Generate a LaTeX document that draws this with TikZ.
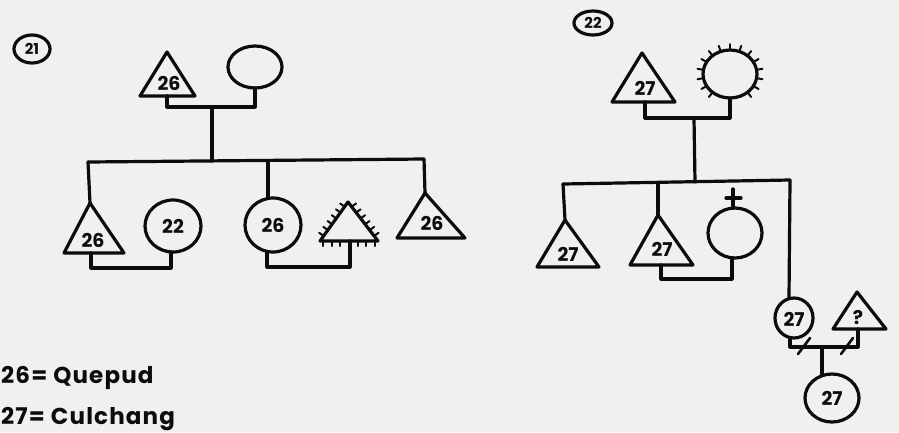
\documentclass[tikz,border=0pt]{standalone}
\usepackage{fontspec}
\setmainfont{Poppins}
\newfontfamily\legendfont[LetterSpace=5]{Poppins}
\usetikzlibrary{calc}
\definecolor{paper}{RGB}{240,240,239}
\definecolor{ink}{RGB}{12,12,12}
\tikzset{
  sym/.style={draw=ink, line width=3.2pt, line join=round, line cap=round},
  conn/.style={draw=ink, line width=3.2pt, line join=round, line cap=round},
  hair/.style={draw=ink, line width=2pt, line cap=round},
  num/.style={font=\fontsize{19}{19}\selectfont\bfseries, text=ink, inner sep=0pt},
  tag/.style={font=\fontsize{15}{15}\selectfont\bfseries, text=ink, inner sep=0pt},
  legend/.style={font=\legendfont\fontsize{23}{23}\selectfont\bfseries, text=ink, inner sep=0pt, anchor=base west}
}
\begin{document}
\begin{tikzpicture}[x=1pt,y=-1pt]
\fill[paper] (0,0) rectangle (899,432);
\useasboundingbox (0,0) rectangle (899,432);

% ===== family 21 =====
\coordinate (g21) at (32,49);
\draw[sym] (g21) ellipse (18 and 14);
\node[tag] (l21) at (32,49) {21};

% parents
\coordinate (t1a) at (167,52); \coordinate (t1l) at (140,96); \coordinate (t1r) at (195,96);
\draw[sym] (t1a) -- (t1r) -- (t1l) -- cycle;
\node[num] (n1) at (169,83) {26};
\coordinate (c1) at (255,67);
\draw[sym] (c1) ellipse (27 and 21);
\coordinate (t1b) at (167,96); \coordinate (c1b) at (255,88);
\coordinate (m1) at (212,107);
\draw[conn] (t1b) |- (m1) -| (c1b);
\coordinate (s1) at (212,161);
\draw[conn] (m1) -- (s1);

% sibling line
\coordinate (sL) at (88,162); \coordinate (sM) at (268,161); \coordinate (sR) at (424,159);
\draw[conn] (sL) -- (sR);

% child 1: triangle 26 + circle 22
\coordinate (t2a) at (90,203); \coordinate (t2l) at (64,253); \coordinate (t2r) at (124,253);
\draw[sym] (t2a) -- (t2r) -- (t2l) -- cycle;
\node[num] (n2) at (93,240) {26};
\draw[conn] (sL) -- (t2a);
\coordinate (c2) at (173,226);
\draw[sym] (c2) ellipse (28 and 26);
\node[num] (n3) at (c2) {22};
\coordinate (t2b) at (91,253); \coordinate (c2b) at (171,252);
\coordinate (m2) at (131,268);
\draw[conn] (t2b) |- (m2) -| (c2b);

% child 2: circle 26 + hairy triangle
\coordinate (c3) at (273,225);
\draw[sym] (c3) ellipse (28 and 27);
\node[num] (n4) at (c3) {26};
\coordinate (c3t) at (268,198);
\draw[conn] (sM) -- (c3t);
\coordinate (h-a) at (348,202); \coordinate (h-l) at (320,241); \coordinate (h-r) at (378,241);
\draw[sym] (h-a) -- (h-r) -- (h-l) -- cycle;
\foreach \f in {0.12,0.27,0.42,0.57,0.72,0.87}{
  \draw[hair] ($(h-a)!\f!(h-l)$) -- ++(-4.5,-3.2);
  \draw[hair] ($(h-a)!\f!(h-r)$) -- ++(4.5,-3.2);
}
\foreach \f in {0.05,0.2,0.35,0.5,0.65,0.8,0.95}{
  \draw[hair] ($(h-l)!\f!(h-r)$) -- ++(0,5);
}
\coordinate (c3b) at (267,252); \coordinate (hb) at (350,241);
\coordinate (m3) at (308,267);
\draw[conn] (c3b) |- (m3) -| (hb);

% child 3: triangle 26
\coordinate (t4a) at (425,193); \coordinate (t4l) at (397,238); \coordinate (t4r) at (465,238);
\draw[sym] (t4a) -- (t4r) -- (t4l) -- cycle;
\node[num] (n5) at (432,223) {26};
\draw[conn] (sR) -- (t4a);

% ===== family 22 =====
\coordinate (g22) at (593,23);
\draw[sym] (g22) ellipse (19 and 12);
\node[tag] (l22) at (593,23) {22};

\coordinate (t5a) at (642,53); \coordinate (t5l) at (612,102); \coordinate (t5r) at (675,102);
\draw[sym] (t5a) -- (t5r) -- (t5l) -- cycle;
\node[num] (n6) at (645,88) {27};
\coordinate (c5) at (730,74);
\draw[sym] (c5) ellipse (27 and 24);
\foreach \t in {-170,-150,...,50,130,150,170}{
  \draw[hair] ($(c5)+(\t:27 and 24)$) -- ($(c5)+(\t:33 and 30)$);
}
\coordinate (t5b) at (645,102); \coordinate (c5b) at (730,98);
\coordinate (m5) at (694,118);
\draw[conn] (t5b) |- (m5) -| (c5b);
\coordinate (s5) at (695,182);
\draw[conn] (m5) -- (s5);

\coordinate (rL) at (563,184); \coordinate (rM) at (658,183); \coordinate (rR) at (790,180);
\draw[conn] (rL) -- (rR);

\coordinate (t6a) at (565,220); \coordinate (t6l) at (537,267); \coordinate (t6r) at (599,267);
\draw[sym] (t6a) -- (t6r) -- (t6l) -- cycle;
\node[num] (n7) at (568,254) {27};
\draw[conn] (rL) -- (t6a);

\coordinate (t7a) at (658,215); \coordinate (t7l) at (630,265); \coordinate (t7r) at (693,265);
\draw[sym] (t7a) -- (t7r) -- (t7l) -- cycle;
\node[num] (n8) at (662,249) {27};
\draw[conn] (rM) -- (t7a);

\coordinate (c7) at (735,233);
\draw[sym] (c7) ellipse (27 and 25);
\coordinate (x1) at (733,208); \coordinate (x2) at (733,189);
\coordinate (x3) at (726,198); \coordinate (x4) at (741,198);
\draw[conn] (x1) -- (x2);
\draw[conn] (x3) -- (x4);
\coordinate (t7b) at (661,265); \coordinate (c7b) at (732,258);
\coordinate (m7) at (696,279);
\draw[conn] (t7b) |- (m7) -| (c7b);

% right branch: divorced couple
\coordinate (c8) at (794,318);
\draw[sym] (c8) ellipse (19 and 20);
\node[num] (n9) at (794,319) {27};
\coordinate (c8t) at (789,298);
\draw[conn] (rR) -- (c8t);
\coordinate (t8a) at (857,292); \coordinate (t8l) at (833,329); \coordinate (t8r) at (886,329);
\draw[sym] (t8a) -- (t8r) -- (t8l) -- cycle;
\node[num] (n10) at (858,318) {?};
\coordinate (c8b) at (790,338); \coordinate (t8b) at (858,329);
\coordinate (m8) at (822,347);
\draw[conn] (c8b) |- (m8) -| (t8b);
\coordinate (d1a) at (798,354); \coordinate (d1b) at (810,338);
\coordinate (d2a) at (841,354); \coordinate (d2b) at (853,338);
\draw[hair, line width=2.6pt] (d1a) -- (d1b);
\draw[hair, line width=2.6pt] (d2a) -- (d2b);
\coordinate (c9) at (832,398);
\coordinate (c9t) at (822,375);
\draw[conn] (m8) -- (c9t);
\draw[sym] (c9) ellipse (27 and 24);
\node[num] (n11) at (c9) {27};

% legend
\node[legend] (k1) at (1,383) {26=\hspace{6pt}Quepud};
\node[legend] (k2) at (1,424) {27=\hspace{6pt}Culchang};
\end{tikzpicture}
\end{document}
